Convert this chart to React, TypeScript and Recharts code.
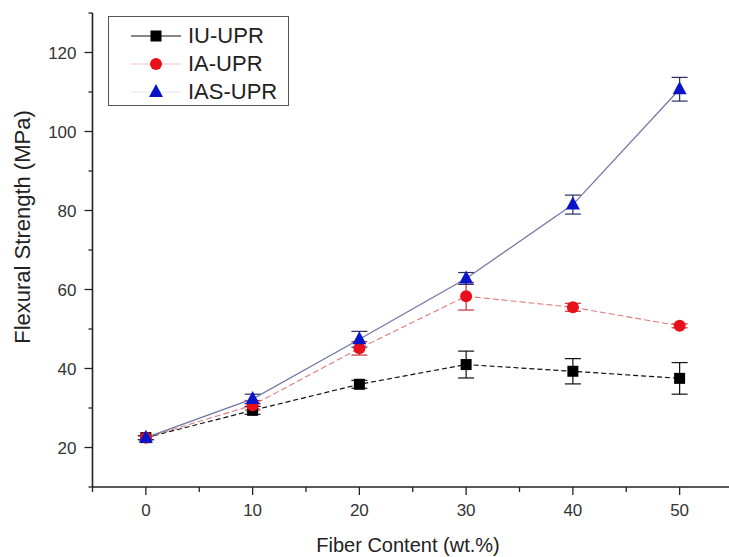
import { ComposedChart, Line, XAxis, YAxis, ErrorBar } from 'recharts';

const fiber = [0, 10, 20, 30, 40, 50];
const iu = [22.5, 29.4, 36.0, 41.0, 39.3, 37.5];
const iuErr = [0.5, 1.0, 1.0, 3.4, 3.2, 4.0];
const ia = [22.5, 30.7, 45.1, 58.3, 55.5, 50.8];
const iaErr = [0.5, 1.2, 1.7, 3.5, 1.0, 0.5];
const ias = [22.5, 32.3, 47.4, 62.8, 81.5, 110.7];
const iasErr = [0.5, 1.2, 2.0, 1.5, 2.4, 3.0];

const xTicks = [-5, 0, 5, 10, 15, 20, 25, 30, 35, 40, 45, 50, 55];
const yTicks = [10, 20, 30, 40, 50, 60, 70, 80, 90, 100, 110, 120, 130];
const xLabels = [0, 10, 20, 30, 40, 50];
const yLabels = [20, 40, 60, 80, 100, 120];

const rows = fiber.map((f, i) => ({
  fiber: f,
  iu: iu[i], iuErr: iuErr[i],
  ia: ia[i], iaErr: iaErr[i],
  ias: ias[i], iasErr: iasErr[i],
}));

const FONT = '"Liberation Sans", Arial, sans-serif';
const AXIS = '#222';

function XTick({ x, y, payload }: any) {
  const major = xLabels.includes(payload.value);
  return (
    <g>
      <line x1={x} x2={x} y1={y} y2={y + (major ? 8 : 5)} stroke={AXIS} strokeWidth={1.3} />
      {major && (
        <text x={x} y={y + 29} textAnchor="middle" fontSize={17} fill="#333" fontFamily={FONT}>
          {payload.value}
        </text>
      )}
    </g>
  );
}

function YTick({ x, y, payload }: any) {
  const major = yLabels.includes(payload.value);
  return (
    <g>
      <line x1={x} x2={x - (major ? 8 : 4)} y1={y} y2={y} stroke={AXIS} strokeWidth={1.3} />
      {major && (
        <text x={x - 16} y={y + 6} textAnchor="end" fontSize={17} fill="#333" fontFamily={FONT}>
          {payload.value}
        </text>
      )}
    </g>
  );
}

const square = (p: any) => (
  <rect key={`s${p.index}`} x={p.cx - 5.5} y={p.cy - 5.5} width={11} height={11} fill="#000" />
);
const circle = (p: any) => <circle key={`c${p.index}`} cx={p.cx} cy={p.cy} r={6} fill="#e8101a" />;
const triangle = (p: any) => (
  <path
    key={`t${p.index}`}
    d={`M${p.cx},${p.cy - 8} L${p.cx + 7},${p.cy + 5} L${p.cx - 7},${p.cy + 5} Z`}
    fill="#0a14c8"
  />
);

function LegendRow({ top, label, line, marker }: any) {
  return (
    <div style={{ position: 'absolute', left: 0, top, height: 26, width: 180 }}>
      <svg width={80} height={26} style={{ position: 'absolute', left: 0, top: 0 }}>
        <line x1={22} x2={72} y1={13} y2={13} stroke={line} strokeWidth={1.2} />
        {marker}
      </svg>
      <span
        style={{
          position: 'absolute', left: 79, top: 0, lineHeight: '26px',
          fontSize: 22, fontFamily: FONT, color: '#222', whiteSpace: 'nowrap',
        }}
      >
        {label}
      </span>
    </div>
  );
}

export default function App() {
  return (
    <div style={{ position: 'absolute', left: 0, top: 0, width: 729, height: 557, overflow: 'hidden', background: '#fff' }}>
      <ComposedChart width={736} height={557} data={rows} margin={{ top: 13, right: 3, left: 0, bottom: 0 }}>
        <XAxis
          dataKey="fiber" type="number" domain={[-5, 55]} ticks={xTicks} interval={0}
          allowDataOverflow tick={<XTick />} tickLine={false} tickSize={0} tickMargin={0}
          height={70} stroke={AXIS} strokeWidth={1.6}
        />
        <YAxis
          type="number" domain={[10, 130]} ticks={yTicks} interval={0} allowDataOverflow
          tick={<YTick />} tickLine={false} tickSize={0} tickMargin={0}
          width={92.5} stroke={AXIS} strokeWidth={1.6}
        />
        <Line
          dataKey="iu" stroke="#111" strokeWidth={1.2} strokeDasharray="5 3"
          dot={square} activeDot={false} isAnimationActive={false}
        >
          <ErrorBar dataKey="iuErr" width={8} stroke="#111" strokeWidth={1.2} direction="y" />
        </Line>
        <Line
          dataKey="ia" stroke="#e07a7a" strokeWidth={1.1} strokeDasharray="6 3"
          dot={circle} activeDot={false} isAnimationActive={false}
        >
          <ErrorBar dataKey="iaErr" width={8} stroke="#c0303a" strokeWidth={1.2} direction="y" />
        </Line>
        <Line
          dataKey="ias" stroke="#7078a4" strokeWidth={1.3}
          dot={triangle} activeDot={false} isAnimationActive={false}
        >
          <ErrorBar dataKey="iasErr" width={8} stroke="#2a2f60" strokeWidth={1.2} direction="y" />
        </Line>
      </ComposedChart>

      <svg width={729} height={557} style={{ position: 'absolute', left: 0, top: 0, pointerEvents: 'none' }}>
        <text
          x={0} y={0} transform="translate(30,227) rotate(-90)" textAnchor="middle"
          fontSize={22} fill="#222" fontFamily={FONT}
        >
          Flexural Strength (MPa)
        </text>
        <text x={408} y={552} textAnchor="middle" fontSize={20} fill="#222" fontFamily={FONT}>
          Fiber Content (wt.%)
        </text>
      </svg>

      <div
        style={{
          position: 'absolute', left: 108, top: 16, width: 181, height: 90,
          border: '1px solid #555', background: '#fff', boxSizing: 'border-box',
        }}
      >
        <LegendRow
          top={6} label="IU-UPR" line="#111"
          marker={<rect x={41.5} y={7.5} width={11} height={11} fill="#000" />}
        />
        <LegendRow
          top={34} label="IA-UPR" line="#f3c4c4"
          marker={<circle cx={47} cy={13} r={6} fill="#e8101a" />}
        />
        <LegendRow
          top={62} label="IAS-UPR" line="#e4e6f4"
          marker={<path d="M47,5 L54,18 L40,18 Z" fill="#0a14c8" />}
        />
      </div>
    </div>
  );
}
